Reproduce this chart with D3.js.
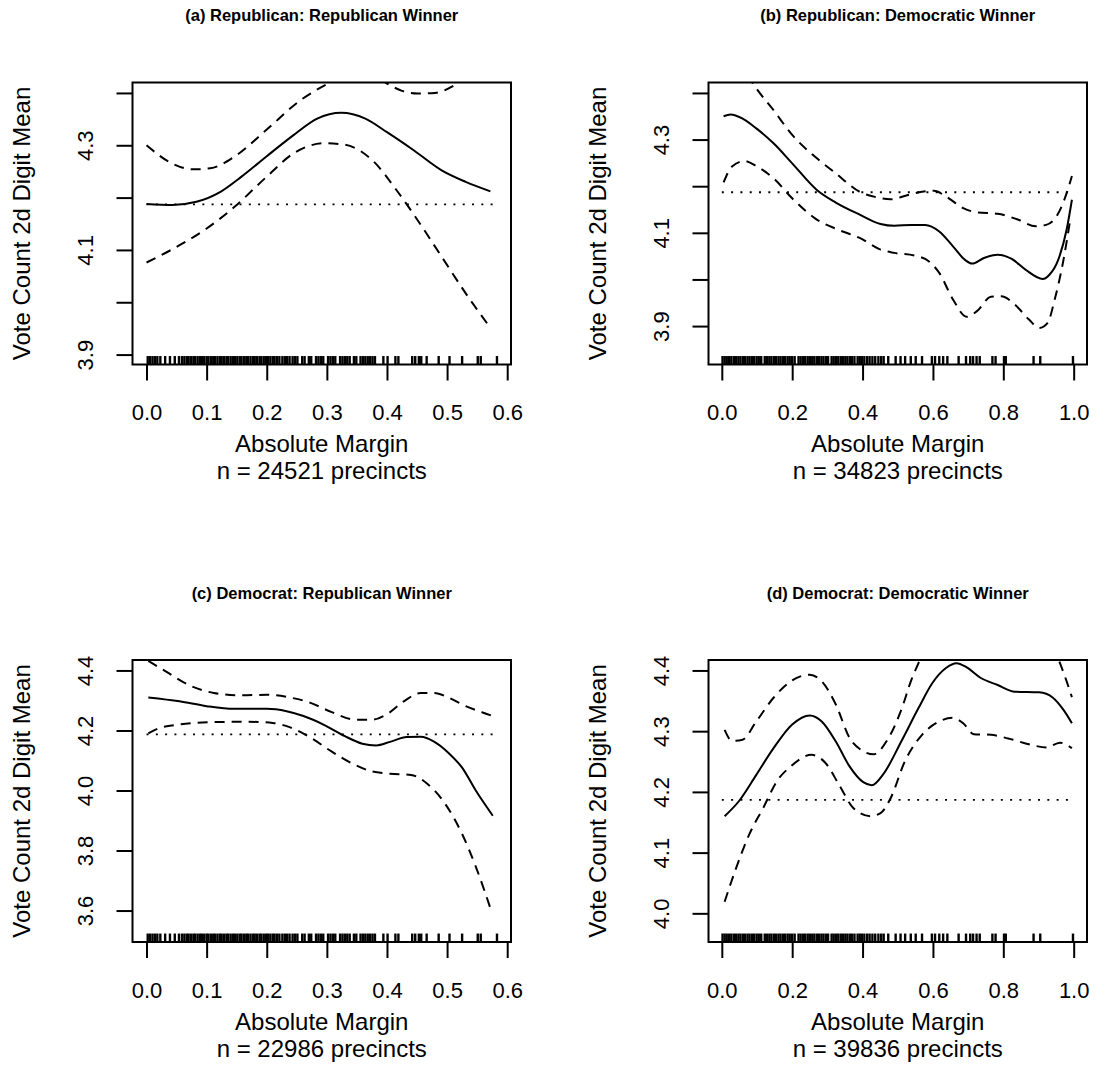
<!DOCTYPE html>
<html lang="en">
<head>
<meta charset="UTF-8">
<title>Vote Count 2d Digit Mean</title>
<script src="https://d3js.org/d3.v7.min.js"></script>
<style>
    body { margin: 0; background: #fff; }
    svg text { font-family: 'Liberation Sans', Arial, sans-serif; fill: #000; }
    text.title { font-weight: bold; font-size: 16.5px; text-anchor: middle; }
    text.lab { font-size: 24px; text-anchor: middle; }
    .axis text { font-size: 22px; text-anchor: middle; }
    .axis line, .axis path { stroke: #000; stroke-width: 2px; }
</style>
</head>
<body>
<svg width="1097" height="1069"></svg>
<script>
    // values
    const panelTitles = ['(a) Republican: Republican Winner', '(b) Republican: Democratic Winner',
                         '(c) Democrat: Republican Winner', '(d) Democrat: Democratic Winner'];
    const precincts = [24521, 34823, 22986, 39836];
    const xLabel = 'Absolute Margin';
    const yLabel = 'Vote Count 2d Digit Mean';
    const overallMean = 4.187;

    const repXTicks = [0, 0.1, 0.2, 0.3, 0.4, 0.5, 0.6];
    const demXTicks = [0, 0.2, 0.4, 0.6, 0.8, 1.0];
    const yTicksTop = [3.9, 4.0, 4.1, 4.2, 4.3, 4.4];
    const yLabelsTop = [3.9, 4.1, 4.3];
    const yTicksC = [3.6, 3.8, 4.0, 4.2, 4.4];
    const yTicksD = [4.0, 4.1, 4.2, 4.3, 4.4];

    const xLimits = [[0, 0.583], [0.002, 0.998], [0, 0.583], [0.002, 0.998]];
    const yLimits = [[3.901, 4.4], [3.840, 4.4], [3.530, 4.4], [3.970, 4.4]];
    const meanSpan = [[0, 0.578], [0, 0.995], [0, 0.578], [0, 0.99]];

    const aFit = [[0.000,4.188],[0.043,4.186],[0.083,4.192],[0.123,4.211],[0.158,4.240],[0.200,4.279],
        [0.244,4.319],[0.284,4.351],[0.324,4.362],[0.364,4.351],[0.400,4.325],[0.445,4.290],
        [0.491,4.252],[0.531,4.230],[0.572,4.212]];
    const aUp = [[0.000,4.300],[0.043,4.265],[0.077,4.254],[0.106,4.256],[0.146,4.278],[0.200,4.330],
        [0.256,4.386],[0.302,4.418],[0.330,4.434],[0.360,4.437],[0.385,4.428],[0.400,4.418],
        [0.425,4.404],[0.451,4.399],[0.480,4.400],[0.508,4.412],[0.540,4.440],[0.572,4.470]];
    const aLo = [[0.000,4.076],[0.055,4.109],[0.100,4.141],[0.146,4.182],[0.200,4.240],[0.244,4.284],
        [0.296,4.304],[0.330,4.301],[0.376,4.271],[0.416,4.214],[0.445,4.167],[0.491,4.087],
        [0.531,4.017],[0.572,3.951]];

    const bFit = [[0.005,4.350],[0.025,4.354],[0.059,4.345],[0.098,4.324],[0.147,4.292],[0.200,4.249],
        [0.270,4.192],[0.324,4.165],[0.392,4.139],[0.451,4.119],[0.490,4.115],[0.539,4.117],
        [0.578,4.117],[0.618,4.103],[0.657,4.071],[0.691,4.042],[0.711,4.034],[0.745,4.046],
        [0.784,4.053],[0.824,4.044],[0.863,4.021],[0.912,4.001],[0.931,4.010],[0.956,4.042],
        [0.980,4.107],[0.995,4.171]];
    const bUp = [[0.005,4.490],[0.040,4.465],[0.088,4.421],[0.098,4.410],[0.147,4.363],[0.200,4.310],
        [0.265,4.263],[0.320,4.230],[0.392,4.188],[0.441,4.176],[0.480,4.172],[0.529,4.181],
        [0.569,4.188],[0.603,4.190],[0.637,4.178],[0.686,4.153],[0.725,4.144],[0.784,4.141],
        [0.843,4.128],[0.892,4.114],[0.922,4.117],[0.951,4.135],[0.980,4.185],[0.995,4.222]];
    const bLo = [[0.005,4.208],[0.029,4.242],[0.064,4.254],[0.098,4.243],[0.147,4.217],[0.200,4.174],
        [0.265,4.131],[0.333,4.106],[0.392,4.089],[0.451,4.064],[0.490,4.057],[0.549,4.051],
        [0.588,4.039],[0.618,4.014],[0.657,3.957],[0.696,3.920],[0.725,3.932],[0.765,3.963],
        [0.794,3.964],[0.833,3.946],[0.873,3.914],[0.902,3.896],[0.926,3.907],[0.946,3.957],
        [0.971,4.042],[0.990,4.128]];

    const cFit = [[0.003,4.310],[0.055,4.297],[0.100,4.281],[0.146,4.272],[0.200,4.272],[0.233,4.264],
        [0.261,4.248],[0.296,4.218],[0.330,4.181],[0.359,4.156],[0.382,4.150],[0.405,4.162],
        [0.433,4.178],[0.456,4.179],[0.479,4.162],[0.502,4.126],[0.525,4.076],[0.548,3.999],
        [0.576,3.916]];
    const cUp = [[0.003,4.432],[0.032,4.397],[0.072,4.350],[0.112,4.325],[0.158,4.317],[0.200,4.319],
        [0.238,4.310],[0.273,4.292],[0.307,4.262],[0.348,4.236],[0.376,4.236],[0.399,4.253],
        [0.428,4.297],[0.456,4.325],[0.479,4.325],[0.502,4.310],[0.531,4.281],[0.566,4.255],
        [0.576,4.248]];
    const cLo = [[0.003,4.190],[0.020,4.207],[0.055,4.220],[0.112,4.228],[0.169,4.229],[0.210,4.225],
        [0.238,4.211],[0.273,4.176],[0.307,4.131],[0.342,4.090],[0.376,4.063],[0.405,4.056],
        [0.440,4.052],[0.468,4.021],[0.497,3.955],[0.525,3.855],[0.548,3.745],[0.574,3.596]];

    const dFit = [[0.008,4.160],[0.049,4.185],[0.098,4.228],[0.147,4.272],[0.200,4.311],[0.250,4.326],
        [0.284,4.316],[0.324,4.283],[0.363,4.242],[0.402,4.216],[0.426,4.211],[0.461,4.231],
        [0.510,4.283],[0.559,4.338],[0.598,4.379],[0.637,4.404],[0.667,4.412],[0.696,4.405],
        [0.735,4.388],[0.784,4.376],[0.833,4.365],[0.902,4.364],[0.941,4.355],[0.971,4.335],
        [0.995,4.313]];
    const dUp = [[0.008,4.302],[0.029,4.284],[0.059,4.286],[0.098,4.316],[0.147,4.355],[0.196,4.382],
        [0.250,4.393],[0.284,4.382],[0.324,4.344],[0.363,4.289],[0.402,4.267],[0.431,4.262],
        [0.471,4.286],[0.510,4.335],[0.539,4.385],[0.559,4.412],[0.600,4.465],[0.650,4.500],
        [0.700,4.510],[0.800,4.480],[0.900,4.460],[0.940,4.440],[0.961,4.412],[0.980,4.382],
        [0.995,4.356]];
    const dLo = [[0.008,4.019],[0.039,4.072],[0.078,4.130],[0.118,4.174],[0.157,4.218],[0.196,4.242],
        [0.255,4.261],[0.294,4.248],[0.333,4.212],[0.373,4.174],[0.422,4.160],[0.451,4.165],
        [0.480,4.190],[0.520,4.250],[0.569,4.294],[0.618,4.316],[0.657,4.322],[0.686,4.313],
        [0.716,4.295],[0.765,4.294],[0.814,4.288],[0.882,4.277],[0.922,4.273],[0.961,4.281],
        [0.995,4.272]];

    // precinct margins shown as the rug (Republican winners / Democratic winners)
    const rugRep = [0.002,0.006,0.010,0.014,0.018,0.023,0.031,0.039,0.047,0.054,
        0.059,0.063,0.067,0.070,0.074,0.078,0.081,0.085,0.089,0.092,0.096,0.100,0.103,0.107,
        0.111,0.114,0.118,0.122,0.125,0.129,0.133,0.136,0.140,0.144,0.147,0.151,0.155,0.158,
        0.162,0.166,0.169,0.173,0.177,0.180,0.184,0.188,0.191,0.195,0.199,0.202,0.206,0.210,
        0.213,0.217,0.221,0.226,0.230,0.234,0.238,0.243,0.247,0.251,0.259,0.263,0.270,0.274,
        0.282,0.286,0.290,0.294,0.302,0.306,0.310,0.314,0.322,0.326,0.330,0.334,0.338,0.345,
        0.349,0.356,0.360,0.364,0.368,0.372,0.376,0.380,
        0.394,0.401,0.414,0.419,0.442,0.447,0.453,0.457,0.466,0.486,0.504,0.525,0.551,0.556,0.583];
    const rugDem = [0.002,0.008,0.014,0.021,0.027,0.034,0.040,0.047,0.053,0.060,0.066,0.073,0.079,
        0.086,0.092,0.099,0.105,0.112,0.122,0.128,0.135,0.141,0.148,0.154,0.161,0.167,0.174,
        0.180,0.187,0.193,0.200,0.207,0.218,0.224,0.231,0.237,0.244,0.250,0.257,0.263,0.270,
        0.276,0.283,0.289,0.296,0.302,0.312,0.318,0.325,0.331,0.338,0.344,0.351,0.357,0.364,
        0.370,0.377,0.386,0.392,0.398,0.405,0.413,0.420,0.428,0.436,0.445,0.453,0.460,
        0.473,0.494,0.508,0.521,0.537,0.551,0.569,0.597,0.606,0.618,0.629,0.641,0.673,0.694,
        0.706,0.714,0.724,0.733,0.769,0.778,0.802,0.807,0.886,0.905,0.998];

    // layout
    const colX = [[132.5, 511], [708.5, 1087]];
    const rowY = [[82.5, 364.5], [660, 942]];
    const svg = d3.select('svg');

    const panels = [
        {title: panelTitles[0], n: precincts[0], col: 0, row: 0, xl: xLimits[0], yl: yLimits[0],
         xt: repXTicks, yt: yTicksTop, ylab: yLabelsTop, fit: aFit, up: aUp, lo: aLo, rug: rugRep, mean: meanSpan[0]},
        {title: panelTitles[1], n: precincts[1], col: 1, row: 0, xl: xLimits[1], yl: yLimits[1],
         xt: demXTicks, yt: yTicksTop, ylab: yLabelsTop, fit: bFit, up: bUp, lo: bLo, rug: rugDem, mean: meanSpan[1]},
        {title: panelTitles[2], n: precincts[2], col: 0, row: 1, xl: xLimits[2], yl: yLimits[2],
         xt: repXTicks, yt: yTicksC, ylab: yTicksC, fit: cFit, up: cUp, lo: cLo, rug: rugRep, mean: meanSpan[2]},
        {title: panelTitles[3], n: precincts[3], col: 1, row: 1, xl: xLimits[3], yl: yLimits[3],
         xt: demXTicks, yt: yTicksD, ylab: yTicksD, fit: dFit, up: dUp, lo: dLo, rug: rugDem, mean: meanSpan[3]}
    ];

    // R style 4% padding on both axes
    function padded(lim) {
        const p = (lim[1] - lim[0]) * 0.04;
        return [lim[0] - p, lim[1] + p];
    }

    panels.forEach((p, i) => drawPanel(p, i));

    function drawPanel(p, i) {
        const [x0, x1] = colX[p.col];
        const [y0, y1] = rowY[p.row];
        const x = d3.scaleLinear().domain(padded(p.xl)).range([x0, x1]);
        const y = d3.scaleLinear().domain(padded(p.yl)).range([y1, y0]);
        const g = svg.append('g');

        g.append('clipPath').attr('id', 'clip' + i)
            .append('rect').attr('x', x0).attr('y', y0).attr('width', x1 - x0).attr('height', y1 - y0);
        const plot = g.append('g').attr('clip-path', `url(#clip${i})`);

        // mean reference line
        plot.append('line')
            .attr('x1', x(p.mean[0])).attr('x2', x(p.mean[1]))
            .attr('y1', y(overallMean)).attr('y2', y(overallMean))
            .attr('stroke', '#000').attr('stroke-width', 1.8).attr('stroke-dasharray', '2,7.3');

        const line = d3.line().x(d => x(d[0])).y(d => y(d[1])).curve(d3.curveMonotoneX);
        [[p.up, '10,7'], [p.lo, '10,7'], [p.fit, null]].forEach(([s, dash]) => {
            plot.append('path').attr('d', line(s))
                .attr('fill', 'none').attr('stroke', '#000').attr('stroke-width', 2)
                .attr('stroke-dasharray', dash);
        });

        // rug
        const rugH = (y1 - y0) * 0.03;
        g.append('g').selectAll('line').data(p.rug).join('line')
            .attr('x1', d => x(d)).attr('x2', d => x(d))
            .attr('y1', y1).attr('y2', y1 - rugH)
            .attr('stroke', '#000').attr('stroke-width', 2.4);

        // axes
        const xa = g.append('g').attr('class', 'axis')
            .attr('transform', `translate(0,${y1})`)
            .call(d3.axisBottom(x).tickValues(p.xt).tickSize(16).tickSizeOuter(0).tickFormat(d3.format('.1f')));
        xa.attr('font-size', null).attr('font-family', null);
        xa.select('.domain').remove();
        xa.selectAll('text').attr('y', 48).attr('dy', '0.36em');

        const ya = g.append('g').attr('class', 'axis')
            .attr('transform', `translate(${x0},0)`)
            .call(d3.axisLeft(y).tickValues(p.yt).tickSize(16).tickSizeOuter(0)
                .tickFormat(d => p.ylab.includes(d) ? d3.format('.1f')(d) : ''));
        ya.attr('font-size', null).attr('font-family', null);
        ya.select('.domain').remove();
        ya.selectAll('text').attr('x', 0).attr('y', 0).attr('dy', '0.36em')
            .attr('transform', 'translate(-47,0) rotate(-90)');

        // box
        g.append('rect').attr('x', x0).attr('y', y0).attr('width', x1 - x0).attr('height', y1 - y0)
            .attr('fill', 'none').attr('stroke', '#000').attr('stroke-width', 2);

        const cx = (x0 + x1) / 2;
        g.append('text').attr('class', 'title').attr('x', cx).attr('y', y0 - 67).attr('dy', '0.36em')
            .text(p.title);
        g.append('text').attr('class', 'lab').attr('x', cx).attr('y', y1 + 79).attr('dy', '0.36em')
            .text(xLabel);
        g.append('text').attr('class', 'lab').attr('x', cx).attr('y', y1 + 106).attr('dy', '0.36em')
            .text(`n = ${p.n} precincts`);
        g.append('text').attr('class', 'lab').attr('dy', '0.36em')
            .attr('transform', `translate(${x0 - 111},${(y0 + y1) / 2}) rotate(-90)`)
            .text(yLabel);
    }
</script>
</body>
</html>
